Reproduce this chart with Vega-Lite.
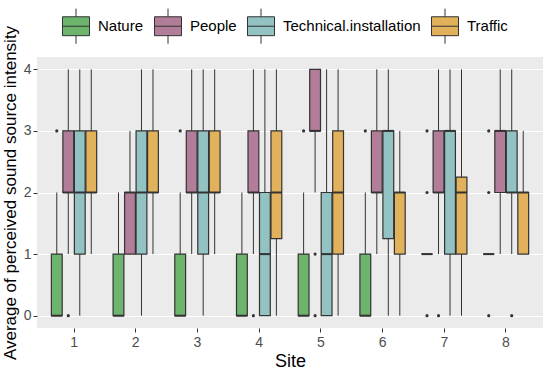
{
  "$schema": "https://vega.github.io/schema/vega-lite/v6.json",
  "width": 506,
  "height": 271,
  "autosize": {"type": "none"},
  "padding": {"left": 37, "top": 57, "right": 7, "bottom": 44},
  "background": "white",
  "config": {
    "view": {"fill": "#EBEBEB", "stroke": null},
    "font": "Liberation Sans"
  },
  "datasets": {
    "boxes": [
      {"site": "1", "source": "Nature", "lower": 0, "q1": 0, "median": 0, "q3": 1, "upper": 2},
      {"site": "1", "source": "People", "lower": 1, "q1": 2, "median": 2, "q3": 3, "upper": 4},
      {"site": "1", "source": "Technical.installation", "lower": 0, "q1": 1, "median": 2, "q3": 3, "upper": 4},
      {"site": "1", "source": "Traffic", "lower": 1, "q1": 2, "median": 2, "q3": 3, "upper": 4},
      {"site": "2", "source": "Nature", "lower": 0, "q1": 0, "median": 0, "q3": 1, "upper": 2},
      {"site": "2", "source": "People", "lower": 1, "q1": 1, "median": 2, "q3": 2, "upper": 3},
      {"site": "2", "source": "Technical.installation", "lower": 0, "q1": 1, "median": 2, "q3": 3, "upper": 4},
      {"site": "2", "source": "Traffic", "lower": 1, "q1": 2, "median": 2, "q3": 3, "upper": 4},
      {"site": "3", "source": "Nature", "lower": 0, "q1": 0, "median": 0, "q3": 1, "upper": 2},
      {"site": "3", "source": "People", "lower": 1, "q1": 2, "median": 2, "q3": 3, "upper": 4},
      {"site": "3", "source": "Technical.installation", "lower": 0, "q1": 1, "median": 2, "q3": 3, "upper": 4},
      {"site": "3", "source": "Traffic", "lower": 1, "q1": 2, "median": 2, "q3": 3, "upper": 4},
      {"site": "4", "source": "Nature", "lower": 0, "q1": 0, "median": 0, "q3": 1, "upper": 2},
      {"site": "4", "source": "People", "lower": 1, "q1": 2, "median": 2, "q3": 3, "upper": 4},
      {"site": "4", "source": "Technical.installation", "lower": 0, "q1": 0, "median": 1, "q3": 2, "upper": 4},
      {"site": "4", "source": "Traffic", "lower": 0, "q1": 1.25, "median": 2, "q3": 3, "upper": 4},
      {"site": "5", "source": "Nature", "lower": 0, "q1": 0, "median": 0, "q3": 1, "upper": 2},
      {"site": "5", "source": "People", "lower": 2, "q1": 3, "median": 3, "q3": 4, "upper": 4},
      {"site": "5", "source": "Technical.installation", "lower": 0, "q1": 0, "median": 1, "q3": 2, "upper": 4},
      {"site": "5", "source": "Traffic", "lower": 0, "q1": 1, "median": 2, "q3": 3, "upper": 4},
      {"site": "6", "source": "Nature", "lower": 0, "q1": 0, "median": 0, "q3": 1, "upper": 2},
      {"site": "6", "source": "People", "lower": 1, "q1": 2, "median": 2, "q3": 3, "upper": 4},
      {"site": "6", "source": "Technical.installation", "lower": 0, "q1": 1.25, "median": 3, "q3": 3, "upper": 4},
      {"site": "6", "source": "Traffic", "lower": 0, "q1": 1, "median": 2, "q3": 2, "upper": 3},
      {"site": "7", "source": "Nature", "lower": 1, "q1": 1, "median": 1, "q3": 1, "upper": 1},
      {"site": "7", "source": "People", "lower": 1, "q1": 2, "median": 2, "q3": 3, "upper": 4},
      {"site": "7", "source": "Technical.installation", "lower": 0, "q1": 1, "median": 3, "q3": 3, "upper": 4},
      {"site": "7", "source": "Traffic", "lower": 0, "q1": 1, "median": 2, "q3": 2.25, "upper": 4},
      {"site": "8", "source": "Nature", "lower": 1, "q1": 1, "median": 1, "q3": 1, "upper": 1},
      {"site": "8", "source": "People", "lower": 1, "q1": 2, "median": 3, "q3": 3, "upper": 4},
      {"site": "8", "source": "Technical.installation", "lower": 1, "q1": 2, "median": 2, "q3": 3, "upper": 4},
      {"site": "8", "source": "Traffic", "lower": 1, "q1": 1, "median": 2, "q3": 2, "upper": 3}
    ],
    "outliers": [
      {"site": "1", "source": "Nature", "value": 3},
      {"site": "1", "source": "People", "value": 0},
      {"site": "3", "source": "Nature", "value": 3},
      {"site": "4", "source": "People", "value": 0},
      {"site": "5", "source": "Nature", "value": 3},
      {"site": "5", "source": "People", "value": 1},
      {"site": "5", "source": "People", "value": 0},
      {"site": "6", "source": "Nature", "value": 3},
      {"site": "7", "source": "Nature", "value": 0},
      {"site": "7", "source": "Nature", "value": 2},
      {"site": "7", "source": "Nature", "value": 3},
      {"site": "7", "source": "People", "value": 0},
      {"site": "8", "source": "Nature", "value": 0},
      {"site": "8", "source": "Nature", "value": 2},
      {"site": "8", "source": "Nature", "value": 3},
      {"site": "8", "source": "Technical.installation", "value": 0}
    ]
  },
  "encoding": {
    "x": {
      "field": "site",
      "type": "nominal",
      "title": "Site",
      "scale": {"paddingInner": 0.266, "paddingOuter": 0.233},
      "axis": {
        "labelAngle": 0,
        "labelFontSize": 14,
        "labelColor": "#4D4D4D",
        "labelPadding": 3,
        "tickColor": "#333333",
        "tickSize": 4,
        "domain": false,
        "grid": false,
        "titleFontSize": 18,
        "titleFontWeight": "normal",
        "titleColor": "#000000",
        "titlePadding": 3
      }
    },
    "xOffset": {
      "field": "source",
      "type": "nominal",
      "scale": {
        "domain": ["Nature", "People", "Technical.installation", "Traffic"],
        "paddingInner": 0.06,
        "paddingOuter": 0
      }
    }
  },
  "layer": [
    {
      "data": {"name": "boxes"},
      "mark": {"type": "rule", "color": "#333333", "strokeWidth": 1},
      "encoding": {
        "y": {
          "field": "lower",
          "type": "quantitative",
          "title": "Average of perceived sound source intensity",
          "scale": {"domain": [-0.2, 4.2], "nice": false, "zero": false},
          "axis": {
            "values": [0, 0.5, 1, 1.5, 2, 2.5, 3, 3.5, 4],
            "format": "d",
            "labelExpr": "datum.value % 1 === 0 ? datum.label : ''",
            "labelFontSize": 14,
            "labelColor": "#4D4D4D",
            "labelPadding": 2,
            "tickColor": "#333333",
            "tickSize": 4,
            "tickOpacity": {"condition": {"test": "datum.value % 1 !== 0", "value": 0}, "value": 1},
            "domain": false,
            "grid": true,
            "gridColor": "#FFFFFF",
            "gridWidth": {"condition": {"test": "datum.value % 1 !== 0", "value": 0.55}, "value": 1.1},
            "titleFontSize": 17,
            "titleFontWeight": "normal",
            "titleColor": "#000000",
            "titlePadding": 4
          }
        },
        "y2": {"field": "upper"}
      }
    },
    {
      "data": {"name": "boxes"},
      "mark": {"type": "bar", "stroke": "#333333", "strokeWidth": 1.2, "opacity": 1},
      "encoding": {
        "y": {"field": "q1", "type": "quantitative"},
        "y2": {"field": "q3"},
        "fill": {
          "field": "source",
          "type": "nominal",
          "scale": {
            "domain": ["Nature", "People", "Technical.installation", "Traffic"],
            "range": ["#6DB56D", "#B27D98", "#93C2C2", "#E1B15B"]
          },
          "legend": {
            "title": null,
            "orient": "none",
            "legendX": 25,
            "legendY": -45,
            "direction": "horizontal",
            "symbolType": "M-1,-0.7H1V0.7H-1Z M-1,0H1 M0,-0.7V-1.3 M0,0.7V1.3",
            "symbolSize": 729,
            "symbolStrokeColor": "#333333",
            "symbolStrokeWidth": 1,
            "symbolOpacity": 1,
            "labelFontSize": 15,
            "labelColor": "#000000",
            "labelOffset": 8,
            "columnPadding": 8
          }
        }
      }
    },
    {
      "data": {"name": "boxes"},
      "mark": {"type": "tick", "color": "#333333", "thickness": 2, "size": 11, "opacity": 1},
      "encoding": {
        "y": {"field": "median", "type": "quantitative"}
      }
    },
    {
      "data": {"name": "outliers"},
      "mark": {"type": "point", "filled": true, "size": 10, "color": "#333333", "opacity": 1},
      "encoding": {
        "y": {"field": "value", "type": "quantitative"}
      }
    }
  ]
}
